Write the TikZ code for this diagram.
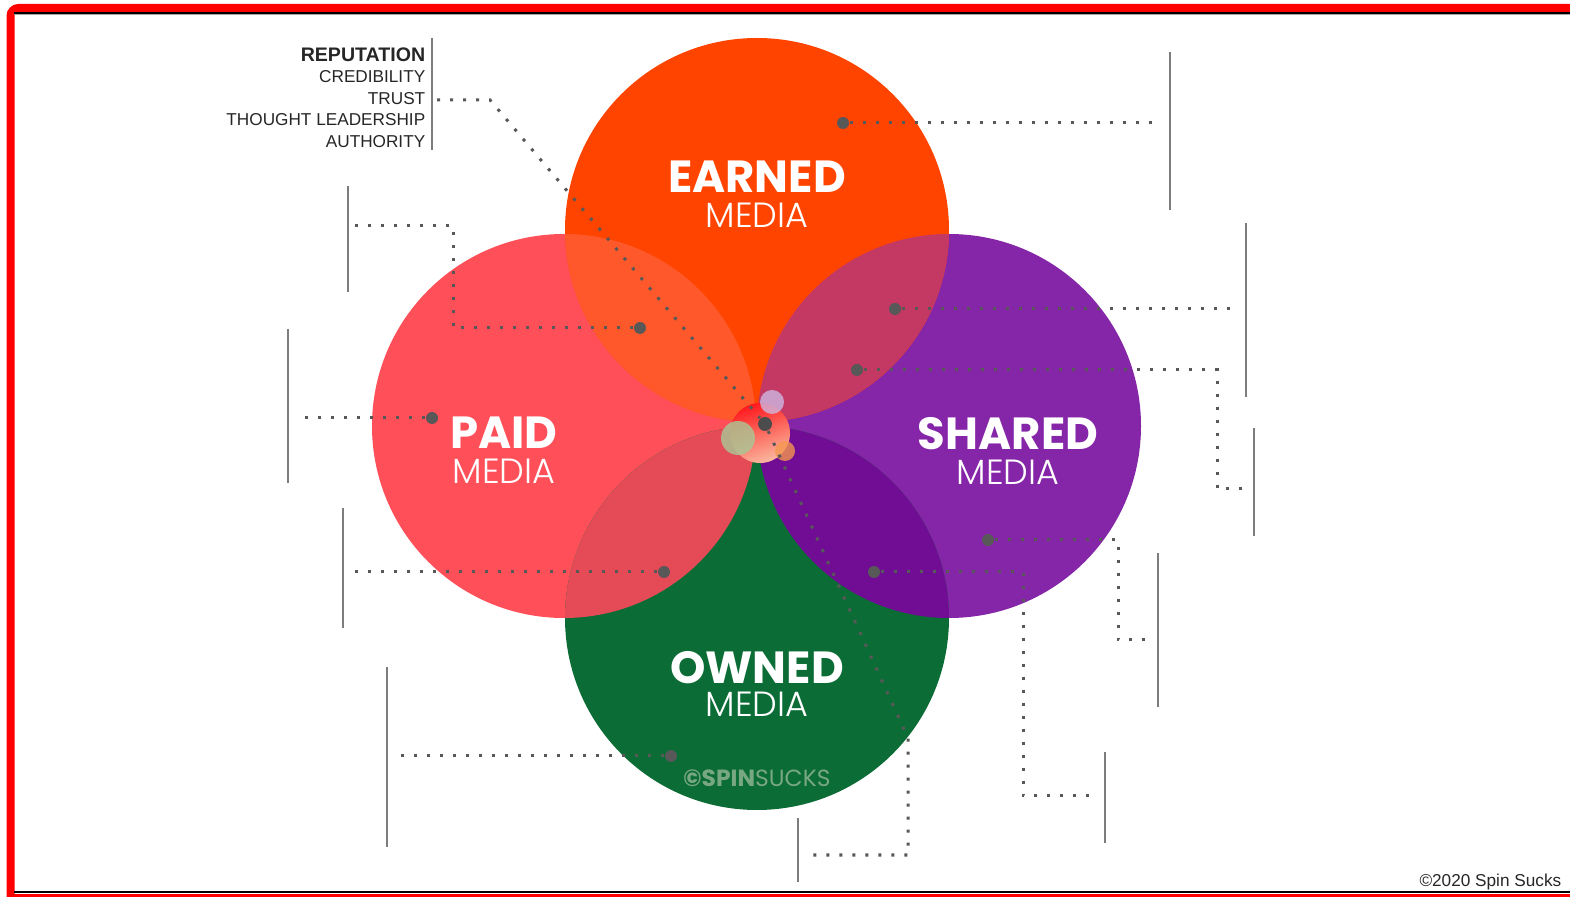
\documentclass[tikz,border=0pt]{standalone}
\usepackage{fontspec}
\setmainfont{Liberation Sans}
\newfontfamily\headfont{Poppins}
\IfFontExistsTF{Poppins Light}{\newfontfamily\lightfont{Poppins Light}}{\newfontfamily\lightfont{Poppins}}
\newcommand{\mediaword}{{\lightfont\mdseries\fontsize{17.5}{17.5}\selectfont MEDIA}}

\definecolor{earnedc}{RGB}{255,68,0}
\definecolor{paidc}{RGB}{255,80,90}
\definecolor{sharedc}{RGB}{133,37,168}
\definecolor{ownedc}{RGB}{12,108,54}
\definecolor{pelens}{RGB}{255,88,42}
\definecolor{eslens}{RGB}{196,57,100}
\definecolor{solens}{RGB}{112,13,148}
\definecolor{polens}{RGB}{229,75,87}
\definecolor{spotgray}{RGB}{88,88,88}
\definecolor{bargray}{RGB}{125,125,125}
\definecolor{markgreen}{RGB}{120,168,128}
\definecolor{sage}{RGB}{168,200,150}
\definecolor{lavender}{RGB}{205,192,235}
\definecolor{peach}{RGB}{245,150,80}

\tikzset{every picture/.style={line width=0.75pt}}
\tikzset{
  head/.style={anchor=north, align=center, text=white, inner sep=0pt,
    font=\headfont\bfseries\fontsize{22.5}{17.5}\selectfont},
  spot/.style={circle, fill=spotgray, inner sep=0pt, minimum size=6pt},
  lead/.style={draw=spotgray, line width=1.5pt, dash pattern=on 1.5pt off 5pt},
  bar/.style={draw=bargray, line width=1pt},
}

\begin{document}
\begin{tikzpicture}[x=0.5pt,y=0.5pt,yscale=-1,xscale=1]
\useasboundingbox (0,0) rectangle (1570,897);

%Frame
\draw [red, line width=4pt, rounded corners=4] (1600,8) -- (10.5,8) -- (10.5,910);
\fill [red] (7,893.5) rectangle (1600,900);
\draw [black, line width=1pt] (14,13) -- (1600,13);
\draw [black!35, line width=0.5pt] (14,14.8) -- (1600,14.8);
\draw [black, line width=0.8pt] (14,892.2) -- (1600,892.2);

%Shape: Circles
\fill [paidc] (564,426) circle (192);
\fill [sharedc] (949,426) circle (192);
\fill [earnedc] (757,230) circle (192);
\fill [ownedc] (757,618) circle (192);

%Overlaps
\begin{scope}
  \clip (757,230) circle (192);
  \fill [pelens] (564,426) circle (192);
  \fill [eslens] (949,426) circle (192);
\end{scope}
\begin{scope}
  \clip (757,618) circle (192);
  \fill [polens] (564,426) circle (192);
  \fill [solens] (949,426) circle (192);
\end{scope}

%Centre bubbles
\shade [top color={rgb,255:red,255;green,25;blue,30}, bottom color={rgb,255:red,250;green,185;blue,160}, shading angle=20] (760,433) circle (30);
\fill [sage, fill opacity=0.8] (738,438) circle (17);
\fill [lavender, fill opacity=0.75] (772,402) circle (12);
\fill [peach, fill opacity=0.8] (785,451) circle (10);

%Titles
\node [head] (earnedt) at (757,160.5) {EARNED\\\mediaword};
\node [head] (paidt) at (504,416.5) {PAID\\\mediaword};
\node [head] (sharedt) at (1008,416.5) {SHARED\\\mediaword};
\node [head, font=\headfont\bfseries\fontsize{22.5}{16.5}\selectfont] (ownedt) at (757,651) {OWNED\\\mediaword};
\node [anchor=base, inner sep=0pt, text=markgreen, font=\headfont\fontsize{11.7}{11.7}\selectfont] (mark) at (757,787) {\textbf{©SPIN}SUCKS};

%Text
\node [anchor=north east, align=right, inner sep=0pt, text=black!85, font=\fontsize{8.6}{10.75}\selectfont] (rep) at (426,47)
  {{\fontsize{9.8}{10.75}\selectfont\bfseries REPUTATION}\\CREDIBILITY\\TRUST\\THOUGHT LEADERSHIP\\AUTHORITY};
\node [anchor=base east, inner sep=0pt, text=black!85, font=\fontsize{8.6}{8.6}\selectfont] (copy) at (1562,886) {©2020 Spin Sucks};

%Bars
\draw [bar] (432,38) -- (432,150);
\draw [bar] (1170,52) -- (1170,210);
\draw [bar] (348,186) -- (348,292);
\draw [bar] (288,329) -- (288,483);
\draw [bar] (343,508) -- (343,628);
\draw [bar] (387,667) -- (387,847);
\draw [bar] (1246,223) -- (1246,397);
\draw [bar] (1254,428) -- (1254,536);
\draw [bar] (1158,553) -- (1158,707);
\draw [bar] (1105,752) -- (1105,843);
\draw [bar] (798,818) -- (798,882);

%Dots
\node [spot] (edot) at (843,123) {};
\node [spot] (pedot) at (640,328) {};
\node [spot] (pdot) at (432,418) {};
\node [spot] (podot) at (664,572) {};
\node [spot] (odot) at (671,756) {};
\node [spot] (esdot) at (895,309) {};
\node [spot] (sdot) at (857,370) {};
\node [spot] (sldot) at (988,540) {};
\node [spot] (sodot) at (874,572) {};
\node [spot, minimum size=7pt, fill=black!70] (cdot) at (765,424) {};

%Free ends
\coordinate (trustend) at (437,100);
\coordinate (eend) at (1158,123);
\coordinate (peend) at (355,226);
\coordinate (pend) at (297,418);
\coordinate (poend) at (349,572);
\coordinate (oend) at (393,756);
\coordinate (esend) at (1236,309);
\coordinate (send) at (1245,489);
\coordinate (slend) at (1147,640);
\coordinate (soend) at (1089,796);
\coordinate (cend) at (804,855);

%Leads
\draw [lead] (trustend) -- (490,100) -- (cdot);
\draw [lead] (edot) -- (eend);
\draw [lead] (pedot) -| (453,226) -- (peend);
\draw [lead] (pdot) -- (pend);
\draw [lead] (podot) -- (poend);
\draw [lead] (odot) -- (oend);
\draw [lead] (esdot) -- (esend);
\draw [lead] (sdot) -| (1217,489) -- (send);
\draw [lead] (sldot) -| (1118,640) -- (slend);
\draw [lead] (sodot) -| (1023,796) -- (soend);
\draw [lead] (cdot) -- (908,738) |- (cend);

\end{tikzpicture}
\end{document}
